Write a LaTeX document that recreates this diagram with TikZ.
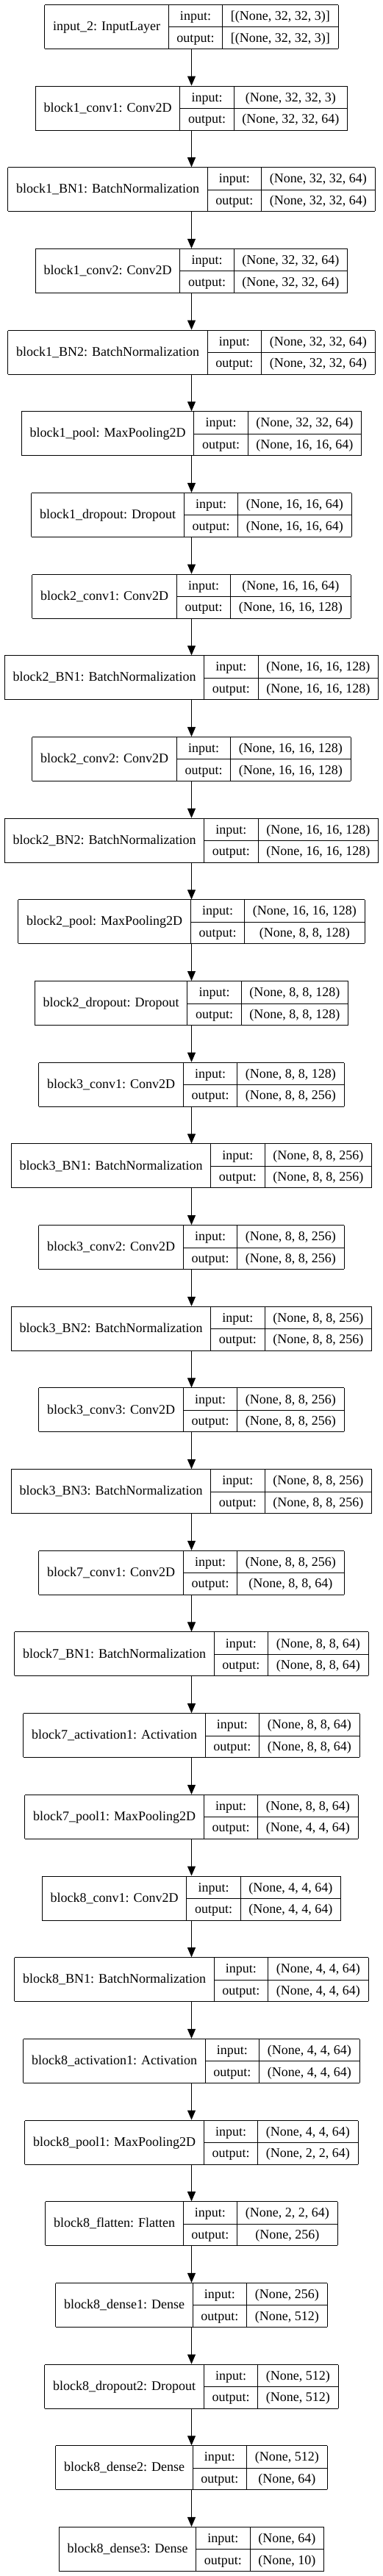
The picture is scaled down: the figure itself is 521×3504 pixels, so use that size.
\documentclass[tikz,border=0pt]{standalone}
\usepackage{fontspec}
\setmainfont{Liberation Serif}
\usepackage{tikz}
\usetikzlibrary{arrows.meta, positioning}
\setlength{\tabcolsep}{11.2pt}
\setlength{\arrayrulewidth}{1pt}
\newcommand{\layerbox}[3]{%
\begin{tabular}{|c|c|c|}\hline
\smash{\raisebox{-14pt}{#1}} & input: & #2\\ \cline{2-3}
 & output: & #3\\ \hline
\end{tabular}}
\tikzstyle{layer} = [inner sep=0pt, outer sep=0pt, font=\fontsize{18}{29.5}\selectfont]
\tikzstyle{arrow} = [line width=1pt, -{Triangle[length=13pt, width=11pt]}]

\begin{document}
\begin{tikzpicture}[node distance=110.68pt]
\useasboundingbox (0,0) rectangle (521pt,-3504pt);
% Nodes
\node (input) [layer] at (260.5pt,-36.35pt) {\layerbox{input\_2: InputLayer}{[(None, 32, 32, 3)]}{[(None, 32, 32, 3)]}};
\node (b1conv1) [layer, below of=input] {\layerbox{block1\_conv1: Conv2D}{(None, 32, 32, 3)}{(None, 32, 32, 64)}};
\node (b1bn1) [layer, below of=b1conv1] {\layerbox{block1\_BN1: BatchNormalization}{(None, 32, 32, 64)}{(None, 32, 32, 64)}};
\node (b1conv2) [layer, below of=b1bn1] {\layerbox{block1\_conv2: Conv2D}{(None, 32, 32, 64)}{(None, 32, 32, 64)}};
\node (b1bn2) [layer, below of=b1conv2] {\layerbox{block1\_BN2: BatchNormalization}{(None, 32, 32, 64)}{(None, 32, 32, 64)}};
\node (b1pool) [layer, below of=b1bn2] {\layerbox{block1\_pool: MaxPooling2D}{(None, 32, 32, 64)}{(None, 16, 16, 64)}};
\node (b1drop) [layer, below of=b1pool] {\layerbox{block1\_dropout: Dropout}{(None, 16, 16, 64)}{(None, 16, 16, 64)}};

% Block 2
\node (b2conv1) [layer, below of=b1drop] {\layerbox{block2\_conv1: Conv2D}{(None, 16, 16, 64)}{(None, 16, 16, 128)}};
\node (b2bn1) [layer, below of=b2conv1] {\layerbox{block2\_BN1: BatchNormalization}{(None, 16, 16, 128)}{(None, 16, 16, 128)}};
\node (b2conv2) [layer, below of=b2bn1] {\layerbox{block2\_conv2: Conv2D}{(None, 16, 16, 128)}{(None, 16, 16, 128)}};
\node (b2bn2) [layer, below of=b2conv2] {\layerbox{block2\_BN2: BatchNormalization}{(None, 16, 16, 128)}{(None, 16, 16, 128)}};
\node (b2pool) [layer, below of=b2bn2] {\layerbox{block2\_pool: MaxPooling2D}{(None, 16, 16, 128)}{(None, 8, 8, 128)}};
\node (b2drop) [layer, below of=b2pool] {\layerbox{block2\_dropout: Dropout}{(None, 8, 8, 128)}{(None, 8, 8, 128)}};

% Block 3
\node (b3conv1) [layer, below of=b2drop] {\layerbox{block3\_conv1: Conv2D}{(None, 8, 8, 128)}{(None, 8, 8, 256)}};
\node (b3bn1) [layer, below of=b3conv1] {\layerbox{block3\_BN1: BatchNormalization}{(None, 8, 8, 256)}{(None, 8, 8, 256)}};
\node (b3conv2) [layer, below of=b3bn1] {\layerbox{block3\_conv2: Conv2D}{(None, 8, 8, 256)}{(None, 8, 8, 256)}};
\node (b3bn2) [layer, below of=b3conv2] {\layerbox{block3\_BN2: BatchNormalization}{(None, 8, 8, 256)}{(None, 8, 8, 256)}};
\node (b3conv3) [layer, below of=b3bn2] {\layerbox{block3\_conv3: Conv2D}{(None, 8, 8, 256)}{(None, 8, 8, 256)}};
\node (b3bn3) [layer, below of=b3conv3] {\layerbox{block3\_BN3: BatchNormalization}{(None, 8, 8, 256)}{(None, 8, 8, 256)}};

% Block 7
\node (b7conv1) [layer, below of=b3bn3] {\layerbox{block7\_conv1: Conv2D}{(None, 8, 8, 256)}{(None, 8, 8, 64)}};
\node (b7bn1) [layer, below of=b7conv1] {\layerbox{block7\_BN1: BatchNormalization}{(None, 8, 8, 64)}{(None, 8, 8, 64)}};
\node (b7act1) [layer, below of=b7bn1] {\layerbox{block7\_activation1: Activation}{(None, 8, 8, 64)}{(None, 8, 8, 64)}};
\node (b7pool1) [layer, below of=b7act1] {\layerbox{block7\_pool1: MaxPooling2D}{(None, 8, 8, 64)}{(None, 4, 4, 64)}};

% Block 8
\node (b8conv1) [layer, below of=b7pool1] {\layerbox{block8\_conv1: Conv2D}{(None, 4, 4, 64)}{(None, 4, 4, 64)}};
\node (b8bn1) [layer, below of=b8conv1] {\layerbox{block8\_BN1: BatchNormalization}{(None, 4, 4, 64)}{(None, 4, 4, 64)}};
\node (b8act1) [layer, below of=b8bn1] {\layerbox{block8\_activation1: Activation}{(None, 4, 4, 64)}{(None, 4, 4, 64)}};
\node (b8pool1) [layer, below of=b8act1] {\layerbox{block8\_pool1: MaxPooling2D}{(None, 4, 4, 64)}{(None, 2, 2, 64)}};
\node (b8flat) [layer, below of=b8pool1] {\layerbox{block8\_flatten: Flatten}{(None, 2, 2, 64)}{(None, 256)}};
\node (b8dense1) [layer, below of=b8flat] {\layerbox{block8\_dense1: Dense}{(None, 256)}{(None, 512)}};
\node (b8drop2) [layer, below of=b8dense1] {\layerbox{block8\_dropout2: Dropout}{(None, 512)}{(None, 512)}};
\node (b8dense2) [layer, below of=b8drop2] {\layerbox{block8\_dense2: Dense}{(None, 512)}{(None, 64)}};
\node (b8dense3) [layer, below of=b8dense2] {\layerbox{block8\_dense3: Dense}{(None, 64)}{(None, 10)}};

% Arrows
\draw [arrow] (input) -- (b1conv1);
\draw [arrow] (b1conv1) -- (b1bn1);
\draw [arrow] (b1bn1) -- (b1conv2);
\draw [arrow] (b1conv2) -- (b1bn2);
\draw [arrow] (b1bn2) -- (b1pool);
\draw [arrow] (b1pool) -- (b1drop);
\draw [arrow] (b1drop) -- (b2conv1);

\draw [arrow] (b2conv1) -- (b2bn1);
\draw [arrow] (b2bn1) -- (b2conv2);
\draw [arrow] (b2conv2) -- (b2bn2);
\draw [arrow] (b2bn2) -- (b2pool);
\draw [arrow] (b2pool) -- (b2drop);
\draw [arrow] (b2drop) -- (b3conv1);

\draw [arrow] (b3conv1) -- (b3bn1);
\draw [arrow] (b3bn1) -- (b3conv2);
\draw [arrow] (b3conv2) -- (b3bn2);
\draw [arrow] (b3bn2) -- (b3conv3);
\draw [arrow] (b3conv3) -- (b3bn3);
\draw [arrow] (b3bn3) -- (b7conv1);

\draw [arrow] (b7conv1) -- (b7bn1);
\draw [arrow] (b7bn1) -- (b7act1);
\draw [arrow] (b7act1) -- (b7pool1);
\draw [arrow] (b7pool1) -- (b8conv1);

\draw [arrow] (b8conv1) -- (b8bn1);
\draw [arrow] (b8bn1) -- (b8act1);
\draw [arrow] (b8act1) -- (b8pool1);
\draw [arrow] (b8pool1) -- (b8flat);
\draw [arrow] (b8flat) -- (b8dense1);
\draw [arrow] (b8dense1) -- (b8drop2);
\draw [arrow] (b8drop2) -- (b8dense2);
\draw [arrow] (b8dense2) -- (b8dense3);

\end{tikzpicture}
\end{document}
